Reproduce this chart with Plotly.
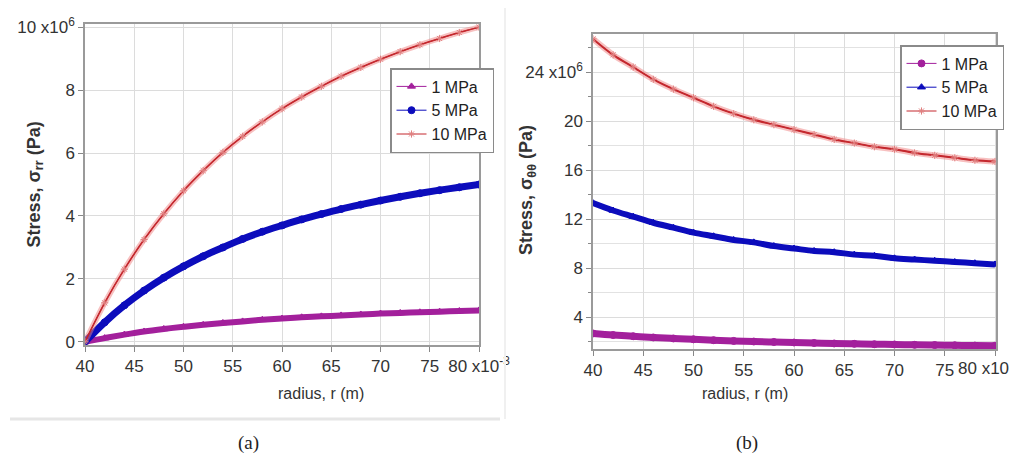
import plotly.graph_objects as go

# ---------------- data ----------------
r_mm = [40, 42, 44, 46, 48, 50, 52, 54, 56, 58, 60, 62, 64, 66, 68, 70, 72, 74, 76, 78, 80]

# (a) radial stress, MPa
srr_1 = [0, 0.12, 0.23, 0.33, 0.41, 0.48, 0.54, 0.60, 0.65, 0.70, 0.74, 0.78, 0.81, 0.84, 0.87, 0.90, 0.92, 0.94, 0.96, 0.98, 1.0]
srr_5 = [0, 0.62, 1.16, 1.63, 2.04, 2.40, 2.72, 3.00, 3.27, 3.50, 3.70, 3.89, 4.06, 4.22, 4.36, 4.49, 4.61, 4.72, 4.82, 4.91, 5.0]
srr_10 = [0, 1.24, 2.31, 3.25, 4.07, 4.80, 5.44, 6.02, 6.53, 6.99, 7.41, 7.78, 8.12, 8.44, 8.72, 8.98, 9.22, 9.44, 9.64, 9.83, 10.0]

# (b) hoop stress, MPa
stt_1 = [2.67, 2.54, 2.44, 2.34, 2.26, 2.19, 2.12, 2.06, 2.01, 1.97, 1.93, 1.89, 1.85, 1.82, 1.79, 1.77, 1.74, 1.72, 1.70, 1.68, 1.67]
stt_5 = [13.3, 12.7, 12.2, 11.7, 11.3, 10.9, 10.6, 10.3, 10.1, 9.8, 9.6, 9.4, 9.3, 9.1, 9.0, 8.8, 8.7, 8.6, 8.5, 8.4, 8.3]
stt_10 = [26.7, 25.4, 24.4, 23.4, 22.6, 21.9, 21.2, 20.6, 20.1, 19.7, 19.3, 18.9, 18.5, 18.2, 17.9, 17.7, 17.4, 17.2, 17.0, 16.8, 16.7]

x_ticks = [40, 45, 50, 55, 60, 65, 70, 75, 80]
x_ticktext_a = ["40", "45", "50", "55", "60", "65", "70", "75", "80 x10<sup>-3</sup>"]
x_ticktext_b = ["40", "45", "50", "55", "60", "65", "70", "75", ""]
x_last_b = "80 x10"          # last label of (b), clipped at the panel edge in the original
y_ticks_a = [0, 2, 4, 6, 8, 10]
y_ticktext_a = ["0", "2", "4", "6", "8", "10 x10<sup>6</sup>"]
y_ticks_b = [4, 8, 12, 16, 20, 24]
y_ticktext_b = ["4", "8", "12", "16", "20", "24 x10<sup>6</sup>"]
labels = ["1 MPa", "5 MPa", "10 MPa"]

# ---------------- helpers ----------------
OFF = 8                      # default page margin of the html body
W, H = 1017 - OFF, 467 - OFF
def px(x):
    return (x - OFF) / W
def py(y):
    return 1 - (y - OFF) / H

radius = [v * 1e-3 for v in r_mm]
def pa(vals):
    return [v * 1e6 for v in vals]

MAG = "#a3209c"
BLUE = "#0c0cbc"
RED = "#c4282e"
HALO = "rgba(240,130,130,0.5)"
STAR = "#e08080"
FONT = "Liberation Sans, Arial, sans-serif"

fig = go.Figure()

def add_series(ys, name, color, width, symbol, msize, xa, ya, leg, halo=False):
    if halo:
        fig.add_trace(go.Scatter(x=radius, y=pa(ys), mode="lines", showlegend=False, hoverinfo="skip",
                                 line=dict(color=HALO, width=width + 4, shape="spline"),
                                 xaxis=xa, yaxis=ya))
    # thick band (no legend)
    fig.add_trace(go.Scatter(x=radius, y=pa(ys), mode="lines", showlegend=False,
                             line=dict(color=color, width=width, shape="spline"),
                             xaxis=xa, yaxis=ya, hoverinfo="skip"))
    # markers + thin line (legend entry)
    mcolor = STAR if halo else color
    fig.add_trace(go.Scatter(x=radius, y=pa(ys), name=name, mode="lines+markers",
                             line=dict(color=color, width=1, shape="spline"),
                             marker=dict(symbol=symbol, size=msize, color=mcolor,
                                         line=dict(color=mcolor, width=1)),
                             xaxis=xa, yaxis=ya, legend=leg))

# ----- panel (a) -----
add_series(srr_1, labels[0], MAG, 6, "triangle-up", 7, "x", "y", "legend")
add_series(srr_5, labels[1], BLUE, 7, "circle", 7, "x", "y", "legend")
add_series(srr_10, labels[2], RED, 1.6, "asterisk-open", 6, "x", "y", "legend", halo=True)

# ----- panel (b) -----
add_series(stt_1, labels[0], MAG, 7, "circle", 7, "x2", "y2", "legend2")
add_series(stt_5, labels[1], BLUE, 6, "triangle-up", 7, "x2", "y2", "legend2")
add_series(stt_10, labels[2], RED, 2, "asterisk-open", 6, "x2", "y2", "legend2", halo=True)

TICKFONT = dict(family=FONT, size=17, color="#333333")
axis_common = dict(showline=True, linecolor="#9a9a9a", linewidth=1.5, mirror=True,
                   showgrid=True, gridcolor="#dcdcdc", gridwidth=1, automargin=False,
                   ticks="outside", ticklen=5, tickcolor="#888888", zeroline=False,
                   ticklabeloverflow="allow", tickfont=TICKFONT)

fig.update_layout(
    width=W, height=H,
    margin=dict(l=0, r=0, t=0, b=0),
    paper_bgcolor="white", plot_bgcolor="white",
    xaxis=dict(domain=[px(85), px(479)], range=[0.0400, 0.0800],
               tickvals=[v * 1e-3 for v in x_ticks], ticktext=x_ticktext_a, tickangle=0,
               anchor="y", **axis_common),
    yaxis=dict(domain=[py(345), py(24)], range=[-0.1e6, 10.1e6],
               tickvals=pa(y_ticks_a), ticktext=y_ticktext_a, anchor="x", **axis_common),
    xaxis2=dict(domain=[px(593), px(996)], range=[0.0400, 0.0801],
                tickvals=[v * 1e-3 for v in x_ticks], ticktext=x_ticktext_b, tickangle=0,
                anchor="y2", **axis_common),
    yaxis2=dict(domain=[py(349), py(34)], range=[1.4e6, 27.1e6],
                tickvals=pa(y_ticks_b), ticktext=y_ticktext_b, anchor="x2",
                minor=dict(dtick=2e6, showgrid=True, gridcolor="#e2e2e2", ticks="outside",
                           ticklen=3, tickcolor="#888888"),
                **axis_common),
    legend=dict(x=px(390), y=py(68), xanchor="left", yanchor="top",
                bgcolor="white", bordercolor="#8a8a8a", borderwidth=1.5,
                font=dict(family=FONT, size=16, color="#222222"),
                tracegroupgap=0, itemwidth=30),
    legend2=dict(x=px(900), y=py(45), xanchor="left", yanchor="top",
                 bgcolor="white", bordercolor="#8a8a8a", borderwidth=1.5,
                 font=dict(family=FONT, size=16, color="#222222"),
                 tracegroupgap=0, itemwidth=30),
    showlegend=True,
)

ann = []
ann.append(dict(text=x_last_b, x=px(1011), y=py(368), xref="paper", yref="paper",
                xanchor="right", yanchor="middle", showarrow=False, font=TICKFONT))
ann.append(dict(text="<b>Stress, σ<sub>rr</sub> (Pa)</b>", x=px(22), y=py(185), xref="paper", yref="paper",
                textangle=-90, showarrow=False,
                font=dict(family=FONT, size=18, color="#333333")))
ann.append(dict(text="<b>Stress, σ<sub>θθ</sub> (Pa)</b>", x=px(527), y=py(190), xref="paper", yref="paper",
                textangle=-90, showarrow=False,
                font=dict(family=FONT, size=18, color="#333333")))
ann.append(dict(text="radius, r (m)", x=px(276), y=py(404), xref="paper", yref="paper",
                showarrow=False, font=dict(family=FONT, size=16, color="#333333")))
ann.append(dict(text="radius, r (m)", x=px(790), y=py(404), xref="paper", yref="paper",
                showarrow=False, font=dict(family=FONT, size=16, color="#333333")))
ann.append(dict(text="(a)", x=px(236), y=py(456), xref="paper", yref="paper",
                showarrow=False, font=dict(family="Liberation Serif, Times New Roman, serif", size=19, color="#222222")))
ann.append(dict(text="(b)", x=px(760), y=py(456), xref="paper", yref="paper",
                showarrow=False, font=dict(family="Liberation Serif, Times New Roman, serif", size=19, color="#222222")))
fig.update_layout(annotations=ann)

# faint frame lines of the two pasted panels
fig.update_layout(shapes=[
    dict(type="line", xref="paper", yref="paper", x0=px(10), x1=px(500), y0=py(419), y1=py(419),
         line=dict(color="#e6e6e6", width=3)),
    dict(type="line", xref="paper", yref="paper", x0=px(505), x1=px(505), y0=py(8), y1=py(419),
         line=dict(color="#f0f0f0", width=2)),
])

fig.write_html("out.html")
